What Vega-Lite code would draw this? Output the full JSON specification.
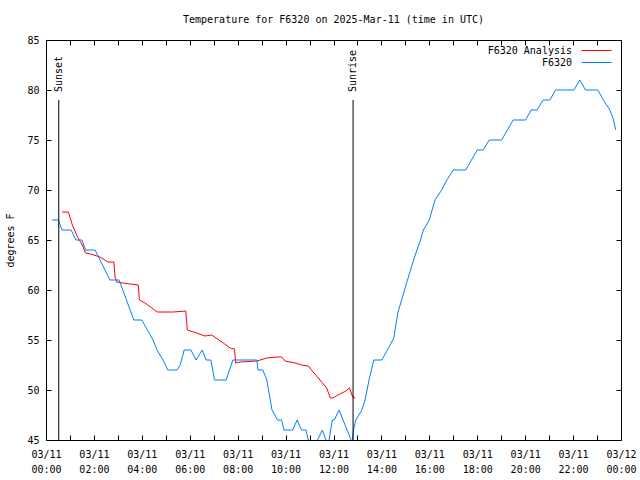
{
  "$schema": "https://vega.github.io/schema/vega-lite/v6.json",
  "width": 575,
  "height": 400,
  "autosize": {"type": "none"},
  "padding": {"left": 46, "top": 40, "right": 19, "bottom": 40},
  "title": {"text": "Temperature for F6320 on 2025-Mar-11 (time in UTC)", "font": "DejaVu Sans Mono", "fontSize": 10, "fontWeight": "normal", "color": "black", "offset": 10},
  "config": {
    "view": {"stroke": "black", "strokeWidth": 1},
    "font": "DejaVu Sans Mono",
    "axis": {"labelFont": "DejaVu Sans Mono", "labelFontSize": 10, "labelColor": "black", "titleFont": "DejaVu Sans Mono", "titleFontSize": 10, "titleFontWeight": "normal", "titleColor": "black", "tickColor": "black", "domain": false, "grid": false, "labelOverlap": false, "labelFlush": false, "labelBound": false},
    "legend": {"labelFont": "DejaVu Sans Mono", "labelFontSize": 10, "labelColor": "black"}
  },
  "datasets": {
    "obs": [
      {"time": "2025-03-11T00:40:00Z", "temp": 67.8, "series": "F6320 Analysis"},
      {"time": "2025-03-11T00:56:00Z", "temp": 67.8, "series": "F6320 Analysis"},
      {"time": "2025-03-11T01:06:00Z", "temp": 66.5, "series": "F6320 Analysis"},
      {"time": "2025-03-11T01:19:00Z", "temp": 65.3, "series": "F6320 Analysis"},
      {"time": "2025-03-11T01:31:00Z", "temp": 64.5, "series": "F6320 Analysis"},
      {"time": "2025-03-11T01:39:00Z", "temp": 63.7, "series": "F6320 Analysis"},
      {"time": "2025-03-11T01:52:00Z", "temp": 63.6, "series": "F6320 Analysis"},
      {"time": "2025-03-11T02:15:00Z", "temp": 63.3, "series": "F6320 Analysis"},
      {"time": "2025-03-11T02:35:00Z", "temp": 62.8, "series": "F6320 Analysis"},
      {"time": "2025-03-11T02:50:00Z", "temp": 62.8, "series": "F6320 Analysis"},
      {"time": "2025-03-11T02:53:00Z", "temp": 61.3, "series": "F6320 Analysis"},
      {"time": "2025-03-11T02:57:00Z", "temp": 60.8, "series": "F6320 Analysis"},
      {"time": "2025-03-11T03:30:00Z", "temp": 60.6, "series": "F6320 Analysis"},
      {"time": "2025-03-11T03:51:00Z", "temp": 60.5, "series": "F6320 Analysis"},
      {"time": "2025-03-11T03:54:00Z", "temp": 59.0, "series": "F6320 Analysis"},
      {"time": "2025-03-11T04:08:00Z", "temp": 58.7, "series": "F6320 Analysis"},
      {"time": "2025-03-11T04:39:00Z", "temp": 57.8, "series": "F6320 Analysis"},
      {"time": "2025-03-11T05:19:00Z", "temp": 57.8, "series": "F6320 Analysis"},
      {"time": "2025-03-11T05:50:00Z", "temp": 57.9, "series": "F6320 Analysis"},
      {"time": "2025-03-11T05:54:00Z", "temp": 56.0, "series": "F6320 Analysis"},
      {"time": "2025-03-11T06:17:00Z", "temp": 55.7, "series": "F6320 Analysis"},
      {"time": "2025-03-11T06:38:00Z", "temp": 55.4, "series": "F6320 Analysis"},
      {"time": "2025-03-11T06:55:00Z", "temp": 55.5, "series": "F6320 Analysis"},
      {"time": "2025-03-11T07:24:00Z", "temp": 54.7, "series": "F6320 Analysis"},
      {"time": "2025-03-11T07:41:00Z", "temp": 54.2, "series": "F6320 Analysis"},
      {"time": "2025-03-11T07:52:00Z", "temp": 54.1, "series": "F6320 Analysis"},
      {"time": "2025-03-11T07:55:00Z", "temp": 52.7, "series": "F6320 Analysis"},
      {"time": "2025-03-11T08:06:00Z", "temp": 52.8, "series": "F6320 Analysis"},
      {"time": "2025-03-11T08:48:00Z", "temp": 52.9, "series": "F6320 Analysis"},
      {"time": "2025-03-11T09:13:00Z", "temp": 53.2, "series": "F6320 Analysis"},
      {"time": "2025-03-11T09:38:00Z", "temp": 53.3, "series": "F6320 Analysis"},
      {"time": "2025-03-11T09:50:00Z", "temp": 53.3, "series": "F6320 Analysis"},
      {"time": "2025-03-11T09:59:00Z", "temp": 52.9, "series": "F6320 Analysis"},
      {"time": "2025-03-11T10:24:00Z", "temp": 52.7, "series": "F6320 Analysis"},
      {"time": "2025-03-11T10:40:00Z", "temp": 52.5, "series": "F6320 Analysis"},
      {"time": "2025-03-11T10:57:00Z", "temp": 52.4, "series": "F6320 Analysis"},
      {"time": "2025-03-11T11:09:00Z", "temp": 51.8, "series": "F6320 Analysis"},
      {"time": "2025-03-11T11:26:00Z", "temp": 51.0, "series": "F6320 Analysis"},
      {"time": "2025-03-11T11:43:00Z", "temp": 50.2, "series": "F6320 Analysis"},
      {"time": "2025-03-11T11:52:00Z", "temp": 49.2, "series": "F6320 Analysis"},
      {"time": "2025-03-11T11:58:00Z", "temp": 49.2, "series": "F6320 Analysis"},
      {"time": "2025-03-11T12:16:00Z", "temp": 49.6, "series": "F6320 Analysis"},
      {"time": "2025-03-11T12:31:00Z", "temp": 49.9, "series": "F6320 Analysis"},
      {"time": "2025-03-11T12:40:00Z", "temp": 50.2, "series": "F6320 Analysis"},
      {"time": "2025-03-11T12:48:00Z", "temp": 49.3, "series": "F6320 Analysis"},
      {"time": "2025-03-11T12:55:00Z", "temp": 49.2, "series": "F6320 Analysis"},
      {"time": "2025-03-11T00:15:00Z", "temp": 67, "series": "F6320"},
      {"time": "2025-03-11T00:31:00Z", "temp": 67, "series": "F6320"},
      {"time": "2025-03-11T00:40:00Z", "temp": 66, "series": "F6320"},
      {"time": "2025-03-11T01:03:00Z", "temp": 66, "series": "F6320"},
      {"time": "2025-03-11T01:15:00Z", "temp": 65, "series": "F6320"},
      {"time": "2025-03-11T01:30:00Z", "temp": 65, "series": "F6320"},
      {"time": "2025-03-11T01:39:00Z", "temp": 64, "series": "F6320"},
      {"time": "2025-03-11T02:03:00Z", "temp": 64, "series": "F6320"},
      {"time": "2025-03-11T02:40:00Z", "temp": 61, "series": "F6320"},
      {"time": "2025-03-11T03:03:00Z", "temp": 61, "series": "F6320"},
      {"time": "2025-03-11T03:40:00Z", "temp": 57, "series": "F6320"},
      {"time": "2025-03-11T04:00:00Z", "temp": 57, "series": "F6320"},
      {"time": "2025-03-11T04:28:00Z", "temp": 55, "series": "F6320"},
      {"time": "2025-03-11T04:38:00Z", "temp": 54, "series": "F6320"},
      {"time": "2025-03-11T04:53:00Z", "temp": 53, "series": "F6320"},
      {"time": "2025-03-11T05:05:00Z", "temp": 52, "series": "F6320"},
      {"time": "2025-03-11T05:28:00Z", "temp": 52, "series": "F6320"},
      {"time": "2025-03-11T05:36:00Z", "temp": 52.5, "series": "F6320"},
      {"time": "2025-03-11T05:46:00Z", "temp": 54, "series": "F6320"},
      {"time": "2025-03-11T06:03:00Z", "temp": 54, "series": "F6320"},
      {"time": "2025-03-11T06:16:00Z", "temp": 53, "series": "F6320"},
      {"time": "2025-03-11T06:31:00Z", "temp": 54, "series": "F6320"},
      {"time": "2025-03-11T06:41:00Z", "temp": 53, "series": "F6320"},
      {"time": "2025-03-11T06:53:00Z", "temp": 53, "series": "F6320"},
      {"time": "2025-03-11T07:02:00Z", "temp": 51, "series": "F6320"},
      {"time": "2025-03-11T07:31:00Z", "temp": 51, "series": "F6320"},
      {"time": "2025-03-11T07:48:00Z", "temp": 53, "series": "F6320"},
      {"time": "2025-03-11T08:48:00Z", "temp": 53, "series": "F6320"},
      {"time": "2025-03-11T08:51:00Z", "temp": 52, "series": "F6320"},
      {"time": "2025-03-11T09:03:00Z", "temp": 52, "series": "F6320"},
      {"time": "2025-03-11T09:13:00Z", "temp": 51, "series": "F6320"},
      {"time": "2025-03-11T09:26:00Z", "temp": 48, "series": "F6320"},
      {"time": "2025-03-11T09:40:00Z", "temp": 47, "series": "F6320"},
      {"time": "2025-03-11T09:50:00Z", "temp": 47, "series": "F6320"},
      {"time": "2025-03-11T09:56:00Z", "temp": 46, "series": "F6320"},
      {"time": "2025-03-11T10:18:00Z", "temp": 46, "series": "F6320"},
      {"time": "2025-03-11T10:29:00Z", "temp": 47, "series": "F6320"},
      {"time": "2025-03-11T10:40:00Z", "temp": 46, "series": "F6320"},
      {"time": "2025-03-11T10:51:00Z", "temp": 46, "series": "F6320"},
      {"time": "2025-03-11T10:57:00Z", "temp": 45, "series": "F6320"},
      {"time": "2025-03-11T11:02:00Z", "temp": 44, "series": "F6320"},
      {"time": "2025-03-11T11:15:00Z", "temp": 44, "series": "F6320"},
      {"time": "2025-03-11T11:20:00Z", "temp": 45, "series": "F6320"},
      {"time": "2025-03-11T11:32:00Z", "temp": 46, "series": "F6320"},
      {"time": "2025-03-11T11:41:00Z", "temp": 45, "series": "F6320"},
      {"time": "2025-03-11T11:45:00Z", "temp": 44.5, "series": "F6320"},
      {"time": "2025-03-11T11:49:00Z", "temp": 45, "series": "F6320"},
      {"time": "2025-03-11T11:57:00Z", "temp": 47, "series": "F6320"},
      {"time": "2025-03-11T12:02:00Z", "temp": 47, "series": "F6320"},
      {"time": "2025-03-11T12:14:00Z", "temp": 48, "series": "F6320"},
      {"time": "2025-03-11T12:24:00Z", "temp": 47, "series": "F6320"},
      {"time": "2025-03-11T12:44:00Z", "temp": 45, "series": "F6320"},
      {"time": "2025-03-11T12:46:00Z", "temp": 44.6, "series": "F6320"},
      {"time": "2025-03-11T12:50:00Z", "temp": 46, "series": "F6320"},
      {"time": "2025-03-11T12:56:00Z", "temp": 47, "series": "F6320"},
      {"time": "2025-03-11T13:11:00Z", "temp": 48, "series": "F6320"},
      {"time": "2025-03-11T13:19:00Z", "temp": 49, "series": "F6320"},
      {"time": "2025-03-11T13:29:00Z", "temp": 51, "series": "F6320"},
      {"time": "2025-03-11T13:41:00Z", "temp": 53, "series": "F6320"},
      {"time": "2025-03-11T14:01:00Z", "temp": 53, "series": "F6320"},
      {"time": "2025-03-11T14:19:00Z", "temp": 54.3, "series": "F6320"},
      {"time": "2025-03-11T14:31:00Z", "temp": 55.2, "series": "F6320"},
      {"time": "2025-03-11T14:41:00Z", "temp": 57.7, "series": "F6320"},
      {"time": "2025-03-11T15:03:00Z", "temp": 60.7, "series": "F6320"},
      {"time": "2025-03-11T15:19:00Z", "temp": 62.8, "series": "F6320"},
      {"time": "2025-03-11T15:29:00Z", "temp": 64, "series": "F6320"},
      {"time": "2025-03-11T15:38:00Z", "temp": 65, "series": "F6320"},
      {"time": "2025-03-11T15:45:00Z", "temp": 66, "series": "F6320"},
      {"time": "2025-03-11T16:00:00Z", "temp": 67, "series": "F6320"},
      {"time": "2025-03-11T16:14:00Z", "temp": 69, "series": "F6320"},
      {"time": "2025-03-11T16:31:00Z", "temp": 70, "series": "F6320"},
      {"time": "2025-03-11T16:44:00Z", "temp": 71, "series": "F6320"},
      {"time": "2025-03-11T17:00:00Z", "temp": 72, "series": "F6320"},
      {"time": "2025-03-11T17:31:00Z", "temp": 72, "series": "F6320"},
      {"time": "2025-03-11T18:00:00Z", "temp": 74, "series": "F6320"},
      {"time": "2025-03-11T18:15:00Z", "temp": 74, "series": "F6320"},
      {"time": "2025-03-11T18:30:00Z", "temp": 75, "series": "F6320"},
      {"time": "2025-03-11T19:01:00Z", "temp": 75, "series": "F6320"},
      {"time": "2025-03-11T19:30:00Z", "temp": 77, "series": "F6320"},
      {"time": "2025-03-11T20:01:00Z", "temp": 77, "series": "F6320"},
      {"time": "2025-03-11T20:15:00Z", "temp": 78, "series": "F6320"},
      {"time": "2025-03-11T20:30:00Z", "temp": 78, "series": "F6320"},
      {"time": "2025-03-11T20:45:00Z", "temp": 79, "series": "F6320"},
      {"time": "2025-03-11T21:02:00Z", "temp": 79, "series": "F6320"},
      {"time": "2025-03-11T21:16:00Z", "temp": 80, "series": "F6320"},
      {"time": "2025-03-11T22:02:00Z", "temp": 80, "series": "F6320"},
      {"time": "2025-03-11T22:17:00Z", "temp": 81, "series": "F6320"},
      {"time": "2025-03-11T22:31:00Z", "temp": 80, "series": "F6320"},
      {"time": "2025-03-11T23:02:00Z", "temp": 80, "series": "F6320"},
      {"time": "2025-03-11T23:16:00Z", "temp": 79, "series": "F6320"},
      {"time": "2025-03-11T23:32:00Z", "temp": 78, "series": "F6320"},
      {"time": "2025-03-11T23:40:00Z", "temp": 77.2, "series": "F6320"},
      {"time": "2025-03-11T23:47:00Z", "temp": 76, "series": "F6320"}
    ],
    "events": [
      {"time": "2025-03-11T00:32:00Z", "label": "Sunset"},
      {"time": "2025-03-11T12:49:00Z", "label": "Sunrise"}
    ]
  },
  "resolve": {"axis": {"x": "independent", "y": "independent"}},
  "layer": [
    {
      "data": {"name": "obs"},
      "mark": {"type": "line", "strokeWidth": 1, "clip": true, "interpolate": "linear"},
      "encoding": {
        "x": {
          "field": "time", "type": "temporal",
          "scale": {"type": "utc", "domain": [1741651200000, 1741737600000], "nice": false},
          "axis": {"orient": "bottom", "title": null, "values": [1741651200000, 1741654800000, 1741658400000, 1741662000000, 1741665600000, 1741669200000, 1741672800000, 1741676400000, 1741680000000, 1741683600000, 1741687200000, 1741690800000, 1741694400000, 1741698000000, 1741701600000, 1741705200000, 1741708800000, 1741712400000, 1741716000000, 1741719600000, 1741723200000, 1741726800000, 1741730400000, 1741734000000, 1741737600000], "tickSize": -5, "labelPadding": 14, "labelBaseline": "top", "labelLineHeight": 15, "labelAlign": "center",
            "labelExpr": "utchours(datum.value) % 2 == 0 ? [utcFormat(datum.value, '%m/%d'), utcFormat(datum.value, '%H:%M')] : ''"}
        },
        "y": {
          "field": "temp", "type": "quantitative",
          "scale": {"domain": [45, 85], "nice": false, "zero": false},
          "axis": {"orient": "left", "title": "degrees F", "values": [45, 50, 55, 60, 65, 70, 75, 80, 85], "tickSize": -5, "labelPadding": 12, "titlePadding": 11}
        },
        "color": {
          "field": "series", "type": "nominal",
          "scale": {"domain": ["F6320 Analysis", "F6320"], "range": ["#ff0000", "#0080ff"]},
          "legend": {"title": null, "orient": "none", "legendX": 545, "legendY": 5, "symbolType": "M-3,0H3", "symbolSize": 100, "symbolStrokeWidth": 1, "labelAlign": "right", "labelOffset": -30, "rowPadding": 1, "padding": 0}
        }
      }
    },
    {
      "data": {"name": "events"},
      "mark": {"type": "rule", "color": "black", "strokeWidth": 1},
      "encoding": {
        "x": {"field": "time", "type": "temporal", "axis": {"orient": "top", "title": null, "labels": false, "values": [1741651200000, 1741654800000, 1741658400000, 1741662000000, 1741665600000, 1741669200000, 1741672800000, 1741676400000, 1741680000000, 1741683600000, 1741687200000, 1741690800000, 1741694400000, 1741698000000, 1741701600000, 1741705200000, 1741708800000, 1741712400000, 1741716000000, 1741719600000, 1741723200000, 1741726800000, 1741730400000, 1741734000000, 1741737600000], "tickSize": -5}},
        "y": {"datum": 79, "type": "quantitative", "axis": {"orient": "right", "title": null, "labels": false, "values": [45, 50, 55, 60, 65, 70, 75, 80, 85], "tickSize": -5}},
        "y2": {"datum": 45}
      }
    },
    {
      "data": {"name": "events"},
      "mark": {"type": "text", "angle": 270, "align": "left", "baseline": "middle", "dx": 8, "font": "DejaVu Sans Mono", "fontSize": 10, "color": "black"},
      "encoding": {
        "x": {"field": "time", "type": "temporal", "axis": null},
        "y": {"datum": 79, "type": "quantitative", "axis": null},
        "text": {"field": "label"}
      }
    }
  ]
}
